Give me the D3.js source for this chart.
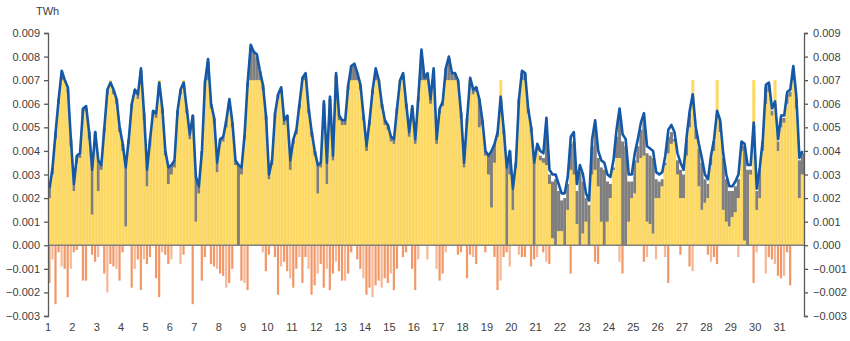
<!DOCTYPE html>
<html>
<head>
<meta charset="utf-8">
<script src="https://cdn.jsdelivr.net/npm/d3@7"></script>
<style>
  html, body { margin: 0; padding: 0; background: #ffffff; }
  svg { display: block; }
  text { font-family: "Liberation Sans", Arial, sans-serif; fill: #404040; }
</style>
</head>
<body>
<svg id="chart" width="850" height="341"></svg>
<script>
// Hourly balance over one month, sampled every 3 hours (8 values per day).
// All series are given in GWh and converted to TWh for plotting.
const GWH_TO_TWH = 0.001;
const HOURS_PER_SLOT = 3;

const dayLabels = ["1","2","3","4","5","6","7","8","9","10","11","12","13","14","15","16",
  "17","18","19","20","21","22","23","24","25","26","27","28","29","30","31"];

const yTicks = [-0.003, -0.002, -0.001, 0.000, 0.001, 0.002, 0.003, 0.004, 0.005, 0.006, 0.007, 0.008, 0.009];

// blue line
const lineValues = [
  2.4, 3.3, 4.8, 6.2, 7.4, 7.0, 6.7, 4.5,
  2.6, 3.8, 3.9, 5.8, 5.9, 4.8, 3.2, 4.8,
  3.6, 3.4, 5.0, 6.6, 6.9, 6.6, 6.2, 5.0,
  4.3, 3.3, 4.5, 6.0, 6.6, 6.4, 7.5, 5.6,
  3.2, 4.5, 5.7, 5.6, 6.9, 5.8, 4.0, 3.3,
  3.4, 3.6, 5.7, 6.6, 6.9, 5.8, 4.7, 5.5,
  2.9, 2.5, 4.0, 6.9, 7.9, 6.0, 5.4, 3.5,
  4.5, 4.6, 5.3, 6.2, 5.2, 3.6, 3.4, 3.3,
  4.7, 6.9, 8.5, 8.2, 8.1, 7.4, 6.8, 5.5,
  3.0, 3.6, 5.6, 6.4, 6.7, 5.3, 5.5, 3.6,
  4.5, 4.9, 6.0, 7.1, 7.3, 5.8, 4.8, 4.0,
  3.4, 3.5, 6.1, 3.5, 6.3, 3.8, 7.3, 5.5,
  5.3, 5.3, 6.8, 7.6, 7.7, 7.3, 6.8, 5.5,
  4.2, 5.3, 6.6, 7.5, 7.0, 6.0, 5.3, 5.1,
  4.6, 4.5, 5.8, 7.0, 7.3, 6.0, 4.8, 5.9,
  4.5, 6.3, 8.3, 7.1, 7.3, 6.2, 7.5, 4.5,
  5.8, 6.1, 7.5, 8.0, 7.3, 7.3, 7.0, 5.6,
  3.5, 5.4, 7.1, 6.6, 6.7, 6.2, 5.3, 4.0,
  3.8, 4.0, 4.3, 4.8, 6.3, 4.9, 3.3, 4.0,
  2.4, 3.5, 6.2, 7.4, 7.3, 5.8, 5.0, 3.5,
  4.3, 4.0, 3.9, 5.4, 3.2, 3.0, 3.0, 2.6,
  2.2, 2.2, 2.9, 4.6, 4.8, 2.6, 3.4, 3.0,
  2.2, 1.9, 4.5, 5.3, 4.0, 3.6, 3.5, 3.0,
  2.9, 3.6, 4.9, 5.8, 4.7, 4.5, 3.0, 3.0,
  3.9, 4.5, 5.2, 5.6, 4.2, 4.1, 4.0, 3.1,
  3.0, 3.1, 3.8, 4.9, 5.1, 4.8, 3.9, 3.5,
  3.2, 4.6, 5.7, 6.4, 5.0, 4.3, 3.7, 3.0,
  2.8, 3.8, 4.5, 5.7, 5.3, 3.9, 3.0, 2.5,
  2.5, 2.7, 3.0, 4.4, 4.3, 3.4, 3.4, 5.2,
  2.4, 3.3, 4.5, 6.8, 6.9, 5.8, 6.1, 4.5,
  5.5, 5.5, 6.5, 6.6, 7.6, 6.3, 3.7, 4.0
];

// grey bars
const greyValues = [
  2.4, 3.3, 4.8, 6.2, 7.3, 7.0, 6.6, 4.5,
  2.6, 3.8, 3.9, 5.8, 5.8, 4.8, 3.2, 4.8,
  3.6, 3.4, 5.0, 6.6, 6.8, 6.6, 6.2, 5.0,
  4.3, 3.3, 4.5, 6.0, 6.6, 6.4, 7.4, 5.6,
  3.2, 4.5, 5.7, 5.6, 6.8, 5.8, 4.0, 3.3,
  3.4, 3.6, 5.7, 6.6, 6.8, 5.8, 4.7, 5.5,
  2.9, 2.5, 4.0, 6.9, 7.8, 6.0, 5.4, 3.5,
  4.5, 4.6, 5.3, 6.1, 5.2, 3.6, 3.4, 3.3,
  4.7, 6.9, 8.4, 8.2, 8.0, 7.4, 6.8, 5.5,
  3.0, 3.6, 5.6, 6.4, 6.6, 5.3, 5.5, 3.6,
  4.5, 4.9, 6.0, 7.1, 7.2, 5.8, 4.8, 4.0,
  3.4, 3.5, 6.0, 3.5, 6.2, 3.8, 7.2, 5.5,
  5.3, 5.3, 6.8, 7.6, 7.6, 7.3, 6.8, 5.5,
  4.2, 5.3, 6.6, 7.4, 7.0, 6.0, 5.3, 5.1,
  4.6, 4.5, 5.8, 7.0, 7.2, 6.0, 4.8, 5.8,
  4.5, 6.3, 8.2, 7.1, 7.3, 6.2, 7.4, 4.5,
  5.8, 6.1, 7.5, 7.9, 7.3, 7.3, 7.0, 5.6,
  3.5, 5.4, 7.0, 6.6, 6.7, 6.2, 5.3, 4.0,
  3.8, 4.0, 4.3, 4.8, 6.2, 4.9, 3.3, 4.0,
  2.4, 3.5, 6.2, 7.3, 7.3, 5.8, 5.0, 3.5,
  4.1, 3.8, 3.7, 5.1, 3.0, 2.7, 2.8, 2.3,
  1.9, 2.0, 2.6, 4.3, 4.4, 2.3, 3.1, 2.7,
  2.0, 1.7, 4.2, 5.0, 3.7, 3.3, 3.2, 2.7,
  2.6, 3.3, 4.6, 5.5, 4.4, 4.2, 2.7, 2.7,
  3.6, 4.2, 4.9, 5.3, 3.9, 3.8, 3.7, 2.8,
  2.7, 2.8, 3.5, 4.6, 4.8, 4.5, 3.6, 3.2,
  3.0, 4.5, 5.6, 6.3, 4.9, 4.1, 3.5, 2.8,
  2.6, 3.7, 4.4, 5.6, 5.2, 3.7, 2.8, 2.3,
  2.3, 2.5, 2.8, 4.3, 4.2, 3.2, 3.2, 5.1,
  2.3, 3.2, 4.4, 6.7, 6.8, 5.7, 6.0, 4.4,
  5.4, 5.4, 6.4, 6.5, 7.5, 6.2, 3.6, 3.9
];

// yellow bars
const yellowValues = [
  2.0, 3.0, 4.5, 6.0, 7.0, 7.0, 6.5, 4.2,
  2.3, 3.5, 3.7, 5.6, 5.7, 4.5, 1.3, 4.5,
  2.3, 3.2, 4.8, 6.4, 7.0, 6.4, 6.0, 4.8,
  4.0, 0.8, 4.3, 5.8, 6.4, 6.2, 7.0, 5.3,
  2.5, 4.2, 5.5, 5.4, 7.0, 5.6, 3.8, 2.6,
  3.0, 3.3, 5.5, 6.4, 7.0, 5.6, 4.5, 5.3,
  1.0, 2.2, 3.8, 7.0, 7.0, 5.8, 5.2, 3.1,
  4.3, 4.4, 5.0, 6.0, 5.0, 3.4, 0.0, 3.0,
  4.5, 6.7, 7.0, 7.0, 7.0, 7.0, 6.6, 5.3,
  2.8, 3.4, 5.4, 6.2, 6.5, 5.1, 5.3, 3.2,
  4.3, 4.7, 5.8, 7.0, 7.0, 5.6, 4.6, 3.8,
  2.2, 3.3, 5.9, 2.6, 6.1, 3.6, 7.0, 5.3,
  5.1, 5.1, 6.6, 7.0, 7.0, 7.0, 6.6, 5.3,
  4.0, 5.1, 6.4, 7.0, 7.0, 5.8, 5.1, 4.9,
  4.4, 4.3, 5.6, 7.0, 7.0, 5.8, 4.6, 5.7,
  4.3, 6.1, 7.0, 7.0, 7.0, 6.0, 7.0, 4.3,
  5.6, 5.9, 7.0, 7.0, 7.0, 7.0, 7.0, 5.4,
  3.3, 5.2, 7.0, 6.4, 6.5, 5.0, 5.1, 3.8,
  3.0, 1.6, 3.5, 4.6, 7.0, 4.7, 0.0, 3.0,
  1.5, 3.3, 6.0, 7.0, 7.0, 5.6, 4.8, 0.0,
  4.0, 3.6, 3.5, 3.4, 2.6, 0.3, 0.0, 0.6,
  0.6, 0.0, 1.5, 3.2, 3.0, 0.9, 0.0, 0.5,
  1.0, 0.0, 3.0, 3.2, 2.5, 1.0, 0.0, 1.0,
  2.0, 3.2, 3.7, 3.7, 0.0, 0.0, 1.0, 2.0,
  2.2, 3.5, 3.7, 3.8, 1.0, 0.9, 0.5, 2.0,
  2.0, 2.5, 3.4, 3.9, 4.3, 4.4, 3.0, 2.0,
  2.0, 3.8, 5.0, 7.0, 4.5, 2.5, 1.5, 1.8,
  2.0, 3.4, 4.0, 7.0, 4.8, 1.5, 1.0, 0.8,
  1.2, 1.4, 2.0, 4.0, 0.2, 0.0, 3.0, 7.0,
  1.5, 2.0, 4.0, 6.0, 6.5, 5.5, 7.0, 4.0,
  5.0, 5.2, 6.0, 6.3, 7.0, 5.8, 2.0, 3.0
];

// orange bars (below zero)
const orangeValues = [
  -1.6, -0.6, -2.5, -0.3, -0.9, -1.0, -2.2, -1.0,
  -0.3, -0.2,  0.0, -1.5, -1.5,  0.0, -0.4, -0.7,
  -0.5,  0.0, -1.2, -2.0, -0.8, -0.9, -1.0, -1.5,
  -0.3,  0.0,  0.0, -1.8, -1.0, -0.6, -1.9, -0.6,
  -0.8, -0.5,  0.0, -1.4, -2.2, -0.3, -0.4, -0.8,
  -0.6,  0.0,  0.0, -0.8, -0.4,  0.0,  0.0, -2.5,
   0.0,  0.0, -1.5, -0.5,  0.0, -0.8, -0.9, -1.0,
  -1.2, -1.3, -1.8, -1.6, -1.0,  0.0,  0.0, -1.5,
  -1.6, -1.9,  0.0,  0.0,  0.0,  0.0, -0.3, -1.1,
  -0.4,  0.0, -0.5, -2.1, -0.9, -0.7, -1.1, -1.4,
  -1.8, -1.0, -0.5, -1.6, -0.5, -1.0, -2.1, -1.7,
  -1.2, -0.8, -1.8, -1.0, -1.9, -1.2, -0.7, -1.1,
  -1.5, -1.5, -1.2, -0.3,  0.0, -0.6, -1.0, -1.4,
  -2.1, -1.8, -2.2, -1.7, -1.5, -1.8, -1.4, -1.6,
  -1.2, -1.9, -1.0,  0.0, -0.5, -0.3,  0.0, -1.0,
  -1.9, -0.6,  0.0,  0.0, -0.6,  0.0,  0.0, -1.0,
  -1.5, -1.2, -0.3,  0.0,  0.0,  0.0, -0.4, -0.3,
   0.0, -1.4, -0.4, -0.5, -0.8,  0.0,  0.0, -0.3,
   0.0,  0.0, -0.5, -1.9, -1.5, -0.5, -0.3, -0.9,
   0.0,  0.0, -0.4, -0.5, -0.5,  0.0, -0.9, -0.6,
  -0.5,  0.0, -0.3, -0.7, -0.8,  0.0,  0.0,  0.0,
   0.0,  0.0,  0.0, -1.2,  0.0,  0.0,  0.0,  0.0,
   0.0,  0.0,  0.0, -0.7, -0.8,  0.0,  0.0,  0.0,
   0.0,  0.0,  0.0, -0.7, -1.2,  0.0,  0.0,  0.0,
   0.0,  0.0,  0.0, -0.7, -0.5,  0.0,  0.0, -0.6,
   0.0,  0.0, -0.5, -1.6,  0.0,  0.0,  0.0, -0.4,
   0.0,  0.0, -0.9, -1.1,  0.0,  0.0,  0.0,  0.0,
  -0.4, -0.7, -0.5, -0.8,  0.0,  0.0,  0.0,  0.0,
   0.0,  0.0, -0.5,  0.0,  0.0,  0.0,  0.0, -1.6,
  -0.3,  0.0,  0.0, -1.2, -0.5, -0.6, -0.8, -1.3,
  -1.4, -1.3, -0.3, -1.7,  0.0,  0.0,  0.0,  0.0
];

(function drawChart() {
  const toTWh = v => v * GWH_TO_TWH;
  const totalHours = dayLabels.length * 24;

  const svg = d3.select("#chart");
  const plotLeft = 48, plotRight = 804, plotTop = 33, plotBottom = 316;

  const x = d3.scaleLinear().domain([0, totalHours]).range([plotLeft, plotRight]);
  const y = d3.scaleLinear().domain([-0.003, 0.009]).range([plotBottom, plotTop]);

  const slotX = i => x(i * HOURS_PER_SLOT);
  const slotW = x(HOURS_PER_SLOT) - x(0);

  const plot = svg.append("g");

  // grey bars (drawn first, visible where yellow is lower)
  plot.append("g").selectAll("rect").data(greyValues).join("rect")
    .attr("x", (d, i) => slotX(i))
    .attr("width", slotW + 0.05)
    .attr("y", d => y(toTWh(d)))
    .attr("height", d => y(0) - y(toTWh(d)))
    .attr("fill", "#7f7f7f");

  // yellow bars, with pale edges giving the fine vertical striping
  plot.append("g").selectAll("rect").data(yellowValues).join("rect")
    .attr("x", (d, i) => slotX(i))
    .attr("width", slotW + 0.05)
    .attr("y", d => y(toTWh(d)))
    .attr("height", d => y(0) - y(toTWh(d)))
    .attr("fill", "#ffd95e");
  plot.append("g").selectAll("line").data(yellowValues).join("line")
    .attr("x1", (d, i) => slotX(i) + 0.3)
    .attr("x2", (d, i) => slotX(i) + 0.3)
    .attr("y1", d => y(toTWh(d)))
    .attr("y2", y(0))
    .attr("stroke", "#ffe89c")
    .attr("stroke-width", 0.6);

  // orange bars below zero
  plot.append("g").selectAll("rect").data(orangeValues).join("rect")
    .attr("x", (d, i) => slotX(i) + 0.3)
    .attr("width", 2.2)
    .attr("y", y(0))
    .attr("height", d => y(toTWh(d)) - y(0))
    .attr("fill", "#f1915e")
    .attr("fill-opacity", (d, i) => i % 3 === 1 ? 0.65 : 0.95);

  // zero line
  svg.append("line")
    .attr("x1", plotLeft).attr("x2", plotRight)
    .attr("y1", y(0)).attr("y2", y(0))
    .attr("stroke", "#808080").attr("stroke-width", 1.5);

  // blue line
  const line = d3.line()
    .x((d, i) => x(i * HOURS_PER_SLOT + HOURS_PER_SLOT / 2))
    .y(d => y(toTWh(d)));
  svg.append("path")
    .datum(lineValues)
    .attr("d", line)
    .attr("fill", "none")
    .attr("stroke", "#1458a6")
    .attr("stroke-width", 2.6)
    .attr("stroke-linejoin", "round");

  // axes
  const fmt = d3.format(".3f");
  const leftAxis = d3.axisLeft(y).tickValues(yTicks).tickFormat(fmt).tickSize(4).tickPadding(4);
  const rightAxis = d3.axisRight(y).tickValues(yTicks).tickFormat(fmt).tickSize(4).tickPadding(5);

  function styleAxis(g) {
    g.select(".domain").attr("stroke", "#595959").attr("stroke-width", 1.3);
    g.selectAll(".tick line").attr("stroke", "#595959").attr("stroke-width", 1.3);
    g.selectAll(".tick text").attr("font-size", 11).attr("fill", "#404040")
      .style("font-family", "'Liberation Sans', Arial, sans-serif");
  }
  svg.append("g").attr("transform", `translate(${plotLeft},0)`).call(leftAxis).call(styleAxis);
  svg.append("g").attr("transform", `translate(${plotRight},0)`).call(rightAxis).call(styleAxis);

  // day labels
  svg.append("g").selectAll("text").data(dayLabels).join("text")
    .attr("x", (d, i) => x(i * 24))
    .attr("y", 331)
    .attr("text-anchor", "middle")
    .attr("font-size", 11)
    .text(d => d);

  // unit label
  svg.append("text")
    .attr("x", 36).attr("y", 15)
    .attr("font-size", 11)
    .text("TWh");
})();
</script>
</body>
</html>
